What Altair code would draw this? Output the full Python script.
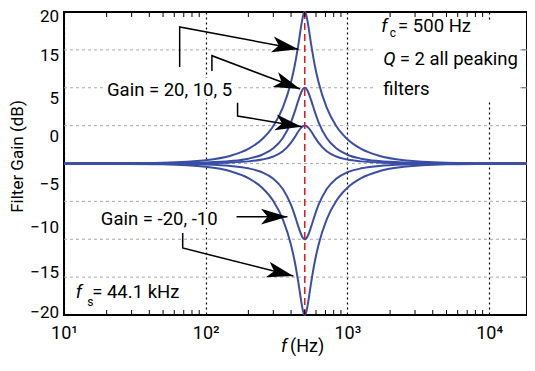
import math
import altair as alt
import pandas as pd

FONT = "Roboto, Liberation Sans, sans-serif"
W, H = 463, 303
F_MIN, F_MAX = 10, 18500
G_MIN, G_MAX = -20, 20

# ---- curve data ----
freq = [10, 20, 50, 100, 150, 200, 250, 300, 350, 400, 425, 450, 475, 487.5, 495,
        500, 505, 512.8, 526.3, 555.6, 588.2, 625, 714.3, 833.3, 1000, 1250, 1667,
        2500, 5000, 12500, 18500]
gain_p20 = [0.00, 0.02, 0.11, 0.44, 1.03, 1.93, 3.20, 4.95, 7.37, 10.75, 12.97, 15.63,
            18.49, 19.58, 19.93, 20.00, 19.93, 19.58, 18.49, 15.63, 12.97, 10.75, 7.37,
            4.95, 3.20, 1.93, 1.03, 0.44, 0.11, 0.02, 0.01]
gain_p10 = [0.00, 0.01, 0.03, 0.13, 0.32, 0.64, 1.16, 2.00, 3.36, 5.47, 6.84, 8.30,
            9.51, 9.88, 9.98, 10.00, 9.98, 9.88, 9.51, 8.30, 6.84, 5.47, 3.36, 2.00,
            1.16, 0.64, 0.32, 0.13, 0.03, 0.01, 0.00]
gain_p5 = [0.00, 0.00, 0.01, 0.06, 0.14, 0.28, 0.52, 0.93, 1.62, 2.76, 3.48, 4.22,
           4.79, 4.95, 4.99, 5.00, 4.99, 4.95, 4.79, 4.22, 3.48, 2.76, 1.62, 0.93,
           0.52, 0.28, 0.14, 0.06, 0.01, 0.00, 0.00]
gain_m10 = [0.00, -0.01, -0.03, -0.13, -0.32, -0.64, -1.16, -2.00, -3.36, -5.47, -6.84,
            -8.30, -9.51, -9.88, -9.98, -10.00, -9.98, -9.88, -9.51, -8.30, -6.84,
            -5.47, -3.36, -2.00, -1.16, -0.64, -0.32, -0.13, -0.03, -0.01, 0.00]
gain_m20 = [0.00, -0.02, -0.11, -0.44, -1.03, -1.93, -3.20, -4.95, -7.37, -10.75,
            -12.97, -15.63, -18.49, -19.58, -19.93, -20.00, -19.93, -19.58, -18.49,
            -15.63, -12.97, -10.75, -7.37, -4.95, -3.20, -1.93, -1.03, -0.44, -0.11,
            -0.02, -0.01]
series_names = ["20", "10", "5", "-10", "-20"]
fc = [500]

# axis ticks / labels
x_ticks = [10, 100, 1000, 10000]
y_ticks = [20, 15, 10, 5, 0, -5, -10, -15, -20]
y_grid = [15, 10, 5, 0, -5, -10, -15]
ylab_vals = [20, 15, 5, 0, -5, -10, -15, -20]
ylab_text = ["20", "15", "5", "0", "\u22125", "\u221210", "\u221215", "\u221220"]
ylab_shift_px = [5, 6, -27, -27, -16, -11, -4, -2]   # labels sit off their gridlines
minor_f = [20, 30, 40, 50, 60, 70, 80, 90, 200, 300, 400, 500, 600, 700, 800, 900,
           2000, 3000, 4000, 5000, 6000, 7000, 8000, 9000]
right_ticks = [15, 10, 5, 0, -5, -10, -15]

# annotation arrows (freq, dB)
arrow_id = [1, 1, 1, 2, 2, 2, 3, 3, 3, 4, 4, 5, 5, 5]
arrow_f = [65.5, 65.5, 450.8, 110.6, 110.6, 463.4, 167.8, 167.8, 475.6,
           165.1, 377.3, 68.8, 68.8, 415.6]
arrow_g = [12.74, 18.02, 15.08, 12.21, 14.23, 9.83, 8.03, 6.27, 4.86,
           -7.02, -7.02, -9.17, -11.16, -14.85]

# text annotations
txt_main = ["Gain = 20, 10, 5", "Gain = -20, -10", "= 500 Hz", "= 2 all peaking",
            "filters", "= 44.1 kHz"]
txt_main_f = [20.1, 18.2, 2279, 2343, 1788, 15.82]
txt_main_g = [8.95, -8.12, 17.4, 13.0, 8.98, -17.76]
txt_ital = ["f", "Q", "f"]
txt_ital_f = [1730, 1788, 12.09]
txt_ital_g = [17.4, 13.0, -17.76]
txt_sub = ["c", "s"]
txt_sub_f = [1993, 14.59]
txt_sub_g = [16.7, -18.81]

# white boxes behind the annotation text
box_f1 = [18.81, 17.07, 1520]
box_f2 = [159.8, 131.5, 16000]
box_g1 = [11.29, -6.007, 18.6]
box_g2 = [8.515, -8.515, 8.38]

# ---- build tables ----
gains = [gain_p20, gain_p10, gain_p5, gain_m10, gain_m20]
rows = []
for name, g in zip(series_names, gains):
    for f, v in zip(freq, g):
        rows.append({"f": f, "g": v, "s": name})
curves = pd.DataFrame(rows)

arrows = pd.DataFrame({"id": arrow_id, "f": arrow_f, "g": arrow_g,
                       "o": list(range(len(arrow_id)))})


def px(f):
    return W * (math.log10(f) - math.log10(F_MIN)) / (math.log10(F_MAX) - math.log10(F_MIN))


def py(g):
    return H * (G_MAX - g) / (G_MAX - G_MIN)


heads = []
for aid in sorted(set(arrow_id)):
    pts = arrows[arrows.id == aid].sort_values("o")
    (f0, g0), (f1, g1) = pts[["f", "g"]].values[-2], pts[["f", "g"]].values[-1]
    ang = math.degrees(math.atan2(py(g1) - py(g0), px(f1) - px(f0))) % 360
    heads.append({"f": f1, "g": g1, "a": ang})
heads = pd.DataFrame(heads)

ylabels = pd.DataFrame({
    "t": ylab_text,
    "g": [v - s * (G_MAX - G_MIN) / H for v, s in zip(ylab_vals, ylab_shift_px)],
})

xs = alt.Scale(type="log", domain=[F_MIN, F_MAX], nice=False)
ys = alt.Scale(domain=[G_MIN, G_MAX], nice=False)

x_axis = alt.Axis(values=x_ticks, title=None, grid=True, gridColor="black",
                  gridDash=[2, 3], gridWidth=1.2, ticks=False, domain=False,
                  labelExpr="datum.value == 10 ? '10¹' : datum.value == 100 ? '10²' : "
                            "datum.value == 1000 ? '10³' : '10⁴'",
                  labelFont=FONT, labelFontSize=18, labelColor="black",
                  labelPadding=9, labelFlush=False, zindex=0)
y_axis = alt.Axis(values=y_ticks, title="Filter Gain (dB)", grid=False,
                  ticks=False, domain=False, labels=False, zindex=0,
                  titleFont=FONT, titleFontSize=17, titleFontWeight="normal",
                  titleColor="black", titleX=-42, titleY=144, titleAngle=270,
                  titleBaseline="alphabetic", titleAlign="center")

X = lambda fld: alt.X(fld, scale=xs)
Y = lambda fld: alt.Y(fld, scale=ys)

ygrid_layer = alt.Chart(pd.DataFrame({"g": y_grid})).mark_rule(
    color="#a8a8a8", strokeDash=[3, 3], strokeWidth=1
).encode(y=Y("g:Q"), x=alt.value(0), x2=alt.value(W))

base_curves = alt.Chart(curves).mark_line(
    color="#3a4ea5", strokeWidth=2, interpolate="monotone"
).encode(
    x=alt.X("f:Q", scale=xs, axis=x_axis),
    y=alt.Y("g:Q", scale=ys, axis=y_axis),
    detail="s:N",
)

ylab_layer = alt.Chart(ylabels).mark_text(
    align="right", baseline="middle", font=FONT, fontSize=17, color="black"
).encode(x=alt.value(-5), y=Y("g:Q"), text="t:N")

red = alt.Chart(pd.DataFrame({"f": fc})).mark_rule(
    color="#e8141c", strokeDash=[7, 4], strokeWidth=1.5
).encode(x=X("f:Q"), y=alt.value(0), y2=alt.value(H))

boxes = alt.Chart(pd.DataFrame({"f": box_f1, "f2": box_f2, "g": box_g1, "g2": box_g2})
                  ).mark_rect(color="white").encode(
    x=X("f:Q"), x2="f2:Q", y=Y("g:Q"), y2="g2:Q")

arrow_lines = alt.Chart(arrows).mark_line(color="black", strokeWidth=1.5).encode(
    x=X("f:Q"), y=Y("g:Q"), detail="id:N", order="o:Q")

arrow_heads = alt.Chart(heads).mark_point(
    shape="M0,0L-2,-0.6L-1.5,0L-2,0.6Z", filled=True, color="black", opacity=1,
    size=700, strokeWidth=0
).encode(x=X("f:Q"), y=Y("g:Q"), angle=alt.Angle("a:Q", scale=None))

t_main = alt.Chart(pd.DataFrame({"t": txt_main, "f": txt_main_f, "g": txt_main_g})).mark_text(
    align="left", baseline="alphabetic", font=FONT, fontSize=18.5, color="black"
).encode(x=X("f:Q"), y=Y("g:Q"), text="t:N")

t_ital = alt.Chart(pd.DataFrame({"t": txt_ital, "f": txt_ital_f, "g": txt_ital_g})).mark_text(
    align="left", baseline="alphabetic", font=FONT, fontSize=18.5, fontStyle="italic",
    color="black"
).encode(x=X("f:Q"), y=Y("g:Q"), text="t:N")

t_sub = alt.Chart(pd.DataFrame({"t": txt_sub, "f": txt_sub_f, "g": txt_sub_g})).mark_text(
    align="left", baseline="alphabetic", font=FONT, fontSize=12, color="black"
).encode(x=X("f:Q"), y=Y("g:Q"), text="t:N")

# x axis title: italic f + (Hz)
xt_text = ["f", "(Hz)"]
xt_f = [340, 394]
xt_style = alt.Chart(pd.DataFrame({"t": xt_text[:1], "f": xt_f[:1]})).mark_text(
    align="left", baseline="alphabetic", font=FONT, fontSize=18, fontStyle="italic",
    color="black").encode(x=X("f:Q"), y=alt.value(H + 37), text="t:N")
xt_rest = alt.Chart(pd.DataFrame({"t": xt_text[1:], "f": xt_f[1:]})).mark_text(
    align="left", baseline="alphabetic", font=FONT, fontSize=18,
    color="black").encode(x=X("f:Q"), y=alt.value(H + 37), text="t:N")

ticks_top = alt.Chart(pd.DataFrame({"f": minor_f})).mark_rule(color="black", strokeWidth=1).encode(
    x=X("f:Q"), y=alt.value(0), y2=alt.value(5))
ticks_bot = alt.Chart(pd.DataFrame({"f": minor_f})).mark_rule(color="black", strokeWidth=1).encode(
    x=X("f:Q"), y=alt.value(H - 5), y2=alt.value(H))
ticks_right = alt.Chart(pd.DataFrame({"g": right_ticks})).mark_rule(color="#555555", strokeWidth=1).encode(
    y=Y("g:Q"), x=alt.value(W - 5), x2=alt.value(W))

chart = alt.layer(
    ygrid_layer, base_curves, ylab_layer, boxes, red, arrow_lines, arrow_heads,
    t_main, t_ital, t_sub, xt_style, xt_rest, ticks_top, ticks_bot, ticks_right
).properties(
    width=W, height=H,
    autosize=alt.AutoSizeParams(type="none"),
    padding={"left": 56, "top": 4, "right": 0, "bottom": 42},
    background="white",
).configure_view(stroke="black", strokeWidth=2)

chart.save("out.html", embed_options={"renderer": "svg", "actions": False})
